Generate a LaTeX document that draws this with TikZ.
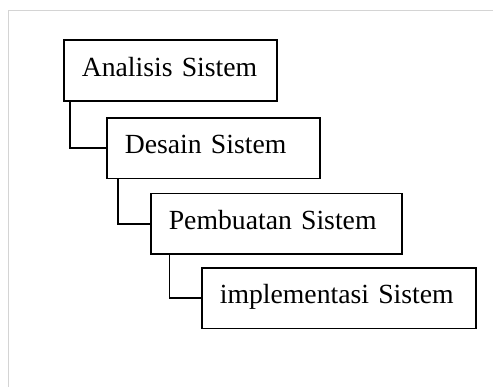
\documentclass[tikz,border=0pt]{standalone}
\usepackage{fontspec}
\setmainfont{Liberation Serif}
\usepackage{tikz}

\begin{document}
\begin{tikzpicture}[x=1pt,y=-1pt]
    \tikzstyle{every node}+=[font=\fontsize{27.7}{30}\selectfont]
    \tikzstyle{box}=[draw=black, line width=1.6pt, anchor=north west, align=left, inner xsep=18pt, inner ysep=0pt, text height=36pt, text depth=24.7pt]
    \useasboundingbox (0,0) rectangle (493,387);
    \draw [black!17, line width=1pt] (8,387) -- (8,11) -- (493,11);
    \node [box, text width=177pt] (analisis) at (63,39.3) {Analisis Sistem};
    \node [box, text width=177pt] (desain) at (106,117) {Desain Sistem};
    \node [box, text width=215pt] (pembuatan) at (150,192.7) {Pembuatan Sistem};
    \node [box, text width=238pt] (implementasi) at (201,267) {implementasi Sistem};
    \draw [black, line width=1.6pt] ([xshift=7pt]analisis.south west) |- (desain.west);
    \draw [black, line width=1.6pt] ([xshift=12pt]desain.south west) |- (pembuatan.west);
    \draw [black, line width=1.6pt] ([xshift=19.5pt]pembuatan.south west) |- (implementasi.west);
\end{tikzpicture}
\end{document}
